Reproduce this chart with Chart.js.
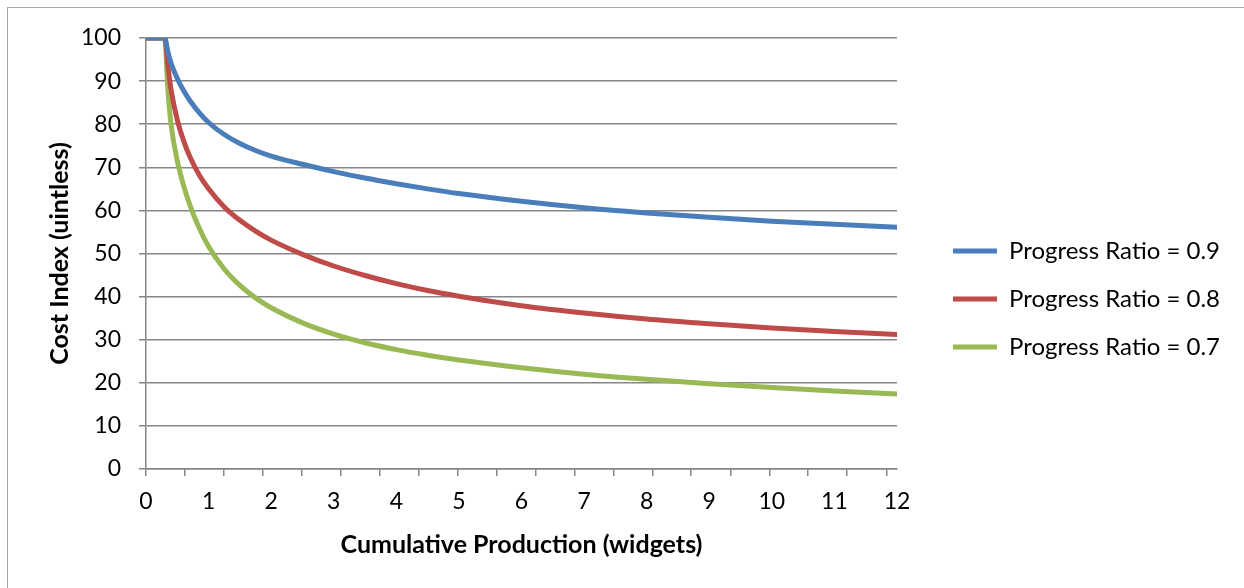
<!DOCTYPE html>
<html>
<head>
<meta charset="utf-8">
<script src="https://cdn.jsdelivr.net/npm/chart.js@4.4.1/dist/chart.umd.min.js"></script>
<style>
  body { margin: 0; background: #fff; }
  .wrap { position: relative; width: 1244px; height: 588px; overflow: hidden; }
  .frame { position: absolute; left: 7px; top: 7px; width: 1400px; height: 700px; border: 1px solid #a6a6a6; }
  canvas { position: absolute; left: 0; top: 0; }
</style>
</head>
<body>
<div class="wrap">
  <div class="frame"></div>
  <canvas id="chart" width="1244" height="588"></canvas>
</div>
<script>
// cumulative production (widgets)
const xValues = [0, 0.3, 0.35, 0.4, 0.5, 0.6, 0.7, 0.85, 1, 1.25, 1.5, 1.75, 2, 2.5, 3, 3.5, 4, 4.5, 5, 6, 7, 8, 9, 10, 11, 12];
// cost index per progress ratio
const ratio09 = [100, 100, 96.8, 94.2, 90.6, 87.8, 85.5, 82.7, 80.4, 77.6, 75.5, 73.9, 72.6, 70.7, 69.0, 67.5, 66.2, 65.0, 63.9, 62.1, 60.6, 59.4, 58.4, 57.5, 56.8, 56.1];
const ratio08 = [100, 100, 93.5, 88, 81, 76.2, 72.5, 68.2, 65, 60.8, 57.7, 55.2, 53.1, 49.8, 47.1, 44.9, 43.0, 41.4, 40.1, 37.9, 36.2, 34.8, 33.7, 32.7, 31.9, 31.2];
const ratio07 = [100, 100, 88, 80, 71.5, 65.8, 61.3, 55.9, 51.6, 46.4, 42.6, 39.7, 37.4, 33.9, 31.3, 29.3, 27.7, 26.4, 25.3, 23.5, 22.0, 20.8, 19.8, 18.9, 18.1, 17.4];
const seriesNames = ["Progress Ratio = 0.9", "Progress Ratio = 0.8", "Progress Ratio = 0.7"];
const seriesColors = ["#4a7ebb", "#be4b48", "#98b954"];
const xLabels = [0, 1, 2, 3, 4, 5, 6, 7, 8, 9, 10, 11, 12];
const xTickMarks = [0, 0.62, 1.24, 1.87, 2.49, 3.11, 3.73, 4.36, 4.98, 5.6, 6.22, 6.85, 7.47, 8.09, 8.71, 9.34, 9.96, 10.58, 11.2, 11.83];

const FONT = "Lato, 'Open Sans', sans-serif";
const GRID = "#868686";
Chart.defaults.color = "#000";
Chart.defaults.font.family = FONT;

const toPoints = (ys) => xValues.map((x, i) => ({ x: x, y: ys[i] }));
const allXTicks = [...new Set([...xLabels, ...xTickMarks])].sort((a, b) => a - b);

const ctx = document.getElementById("chart");
const myChart = new Chart(ctx, {
  type: "line",
  data: {
    datasets: [ratio09, ratio08, ratio07].map((ys, i) => ({
      label: seriesNames[i],
      data: toPoints(ys),
      borderColor: seriesColors[i],
      backgroundColor: seriesColors[i],
      borderWidth: 5,
      borderCapStyle: "round",
      borderJoinStyle: "round",
      pointRadius: 0,
      pointStyle: "line",
      cubicInterpolationMode: "monotone",
    })),
  },
  options: {
    responsive: false,
    animation: false,
    layout: { padding: { left: 45, top: 38, right: 14, bottom: 28 } },
    plugins: {
      tooltip: { enabled: false },
      legend: {
        position: "right",
        maxWidth: 400,
        labels: {
          usePointStyle: true,
          pointStyleWidth: 44,
          padding: 24,
          font: { size: 24 },
          color: "#000",
        },
      },
    },
    scales: {
      x: {
        type: "linear",
        min: 0,
        max: 12,
        afterBuildTicks: (scale) => {
          scale.ticks = allXTicks.map((v) => ({ value: v }));
        },
        afterFit: (scale) => {
          scale.height = 91;
        },
        ticks: {
          autoSkip: false,
          maxRotation: 0,
          minRotation: 0,
          padding: 12,
          font: { size: 23 },
          callback: (v) => (xLabels.includes(v) ? String(v) : ""),
        },
        grid: {
          drawOnChartArea: false,
          tickLength: 7,
          lineWidth: 1.5,
          tickColor: (c) => (c.tick && xTickMarks.includes(c.tick.value) ? GRID : "rgba(0,0,0,0)"),
        },
        border: { color: GRID, width: 1.5 },
        title: {
          display: true,
          text: "Cumulative Production (widgets)",
          font: { size: 25, weight: "bold" },
          padding: { top: 0, bottom: 0 },
        },
      },
      y: {
        min: 0,
        max: 100,
        afterFit: (scale) => {
          scale.width = 101;
        },
        ticks: { stepSize: 10, padding: 18, font: { size: 23 } },
        grid: { color: GRID, lineWidth: 1.5, tickLength: 7 },
        border: { color: GRID, width: 1.5 },
        title: {
          display: true,
          text: "Cost Index (uintless)",
          font: { size: 25, weight: "bold" },
          padding: { top: 0, bottom: 0 },
        },
      },
      // empty box that keeps the legend away from the plot
      gap: {
        position: "right",
        display: true,
        ticks: { display: false },
        grid: { display: false },
        border: { display: false },
        afterFit: (scale) => {
          scale.width = 32;
        },
      },
    },
  },
});
</script>
</body>
</html>
